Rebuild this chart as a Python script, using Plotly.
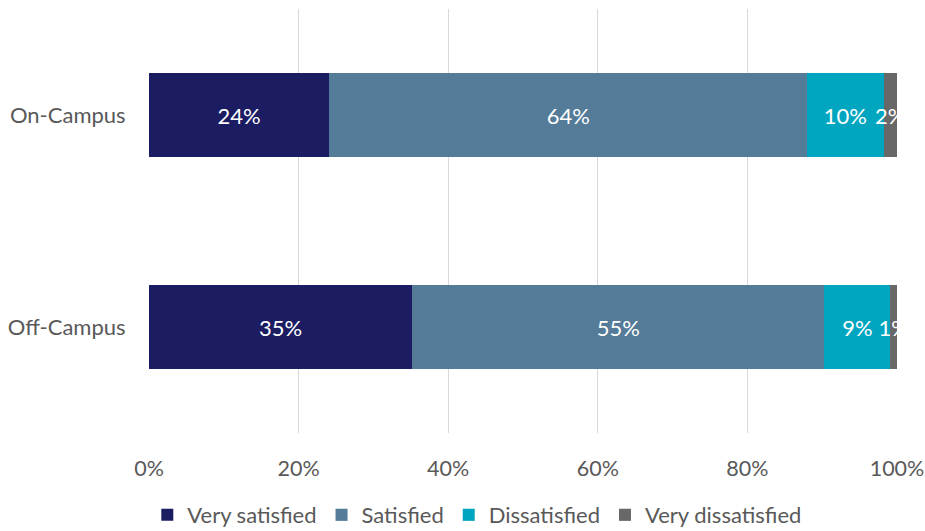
import plotly.graph_objects as go

categories = ["On-Campus", "Off-Campus"]
series_names = ["Very satisfied", "Satisfied", "Dissatisfied", "Very dissatisfied"]
very_satisfied = [24.1, 35.2]
satisfied = [63.9, 55.1]
dissatisfied = [10.2, 8.8]
very_dissatisfied = [1.8, 0.9]
colors = ["#1B1C62", "#547B98", "#00A6BF", "#686868"]
tick_vals = [0, 20, 40, 60, 80, 100]
tick_labels = ["0%", "20%", "40%", "60%", "80%", "100%"]

FONT = "Lato"
fig = go.Figure()
for name, vals, col in zip(series_names,
                           [very_satisfied, satisfied, dissatisfied, very_dissatisfied],
                           colors):
    fig.add_trace(go.Bar(
        y=categories, x=vals, name=name, orientation="h",
        marker=dict(color=col, line=dict(width=0)),
        text=[f"{round(v)}%" for v in vals],
        textposition="inside", insidetextanchor="middle",
        constraintext="none", textangle=0,
        textfont=dict(color="white", size=22, family=FONT),
        hoverinfo="skip",
    ))

fig.update_layout(
    barmode="stack",
    bargap=0.6,
    width=925, height=531,
    margin=dict(l=149, r=28, t=9, b=98, autoexpand=False),
    plot_bgcolor="white", paper_bgcolor="white",
    font=dict(family=FONT, size=22, color="#595959"),
    legend=dict(orientation="h", xref="container", yref="container",
                x=0.516, xanchor="center", y=0.03, yanchor="middle",
                font=dict(size=22, color="#595959"), traceorder="normal",
                itemwidth=30, tracegroupgap=0),
    xaxis=dict(range=[0, 100], tickvals=tick_vals, ticktext=tick_labels,
               showgrid=True, gridcolor="#D9D9D9", gridwidth=1.3, zeroline=False,
               showline=False, ticks="outside", ticklen=16, tickcolor="rgba(0,0,0,0)",
               automargin=False, tickfont=dict(size=21.5), ticklabeloverflow="allow"),
    yaxis=dict(categoryorder="array", categoryarray=categories[::-1],
               showgrid=False, showline=False, ticks="outside", ticklen=18,
               tickcolor="rgba(0,0,0,0)", automargin=False, tickfont=dict(size=22)),
)
fig.write_html("out.html",
               config={"displayModeBar": False},
               post_script="document.body.style.margin='0';document.body.style.overflow='hidden';")
